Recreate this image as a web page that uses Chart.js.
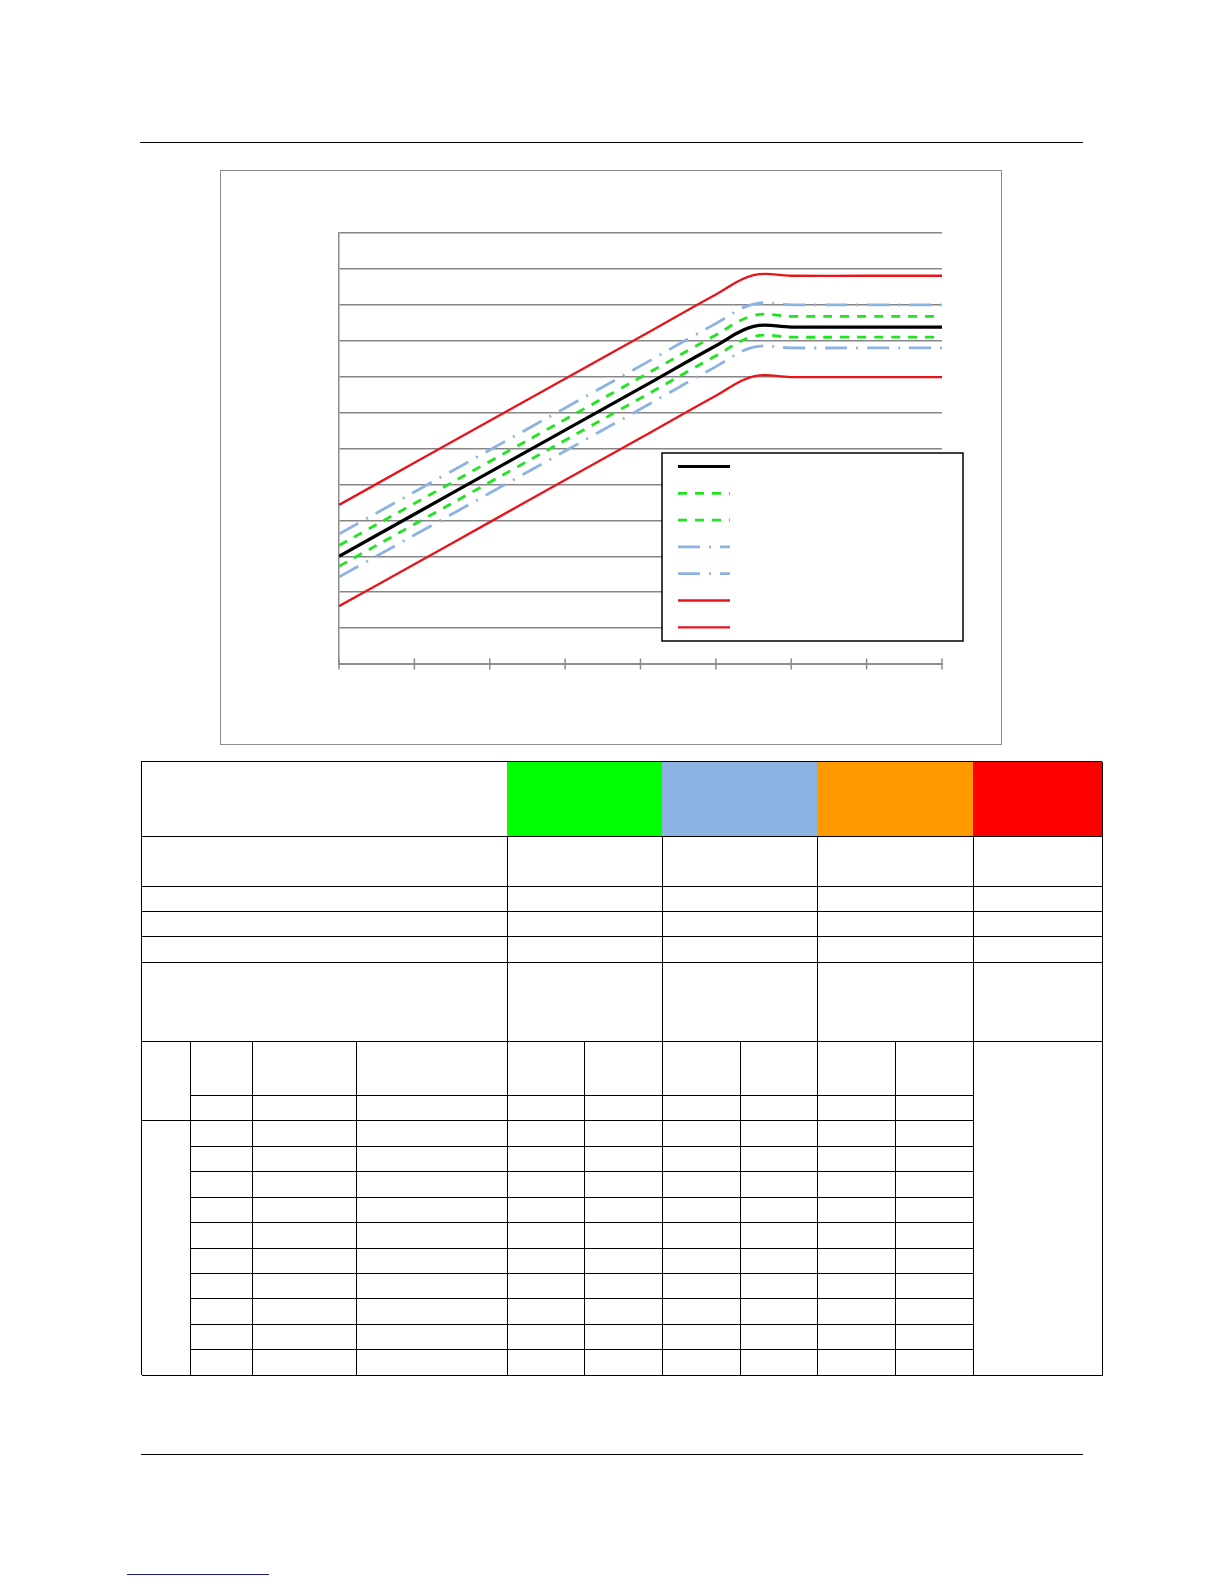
<!DOCTYPE html>
<html>
<head>
<meta charset="utf-8">
<script src="https://cdn.jsdelivr.net/npm/chart.js@4.4.1/dist/chart.umd.min.js"></script>
<style>
  html, body { margin: 0; padding: 0; background: #fff; }
  body { width: 1224px; height: 1584px; position: relative; overflow: hidden; font-family: "Liberation Sans", Arial, sans-serif; }
  .rule { position: absolute; height: 0; border-top: 1.5px solid #000; }
  #frame { position: absolute; left: 220px; top: 170px; width: 782px; height: 575px; border: 1.5px solid #8c8c8c; box-sizing: border-box; }
  #chartBox { position: absolute; left: 221px; top: 171px; width: 780px; height: 573px; }
  #table { position: absolute; left: 0; top: 0; }
  .cell { position: absolute; box-sizing: border-box; border-right: 1.5px solid #000; border-bottom: 1.5px solid #000; }
</style>
</head>
<body>
<div class="rule" style="left:140px; top:142px; width:943px;"></div>
<div id="frame"></div>
<div id="chartBox"><canvas id="myChart"></canvas></div>
<div id="table"></div>
<div class="rule" style="left:141px; top:1454px; width:942px;"></div>
<div class="rule" style="left:127px; top:1574px; width:142px; border-top-color:#1f1f8f;"></div>

<script>
// valeurs (axe x 0..8, axe y 0..12)
var xValues = [0, 1, 2, 3, 4, 5, 5.5, 6, 7, 8];
var centre     = [3.00, 4.17, 5.34, 6.51, 7.68, 8.86, 9.40, 9.38, 9.38, 9.38];
var vertHaut   = [3.30, 4.47, 5.64, 6.81, 7.98, 9.16, 9.70, 9.68, 9.68, 9.68];
var vertBas    = [2.72, 3.89, 5.06, 6.23, 7.40, 8.58, 9.12, 9.10, 9.10, 9.10];
var bleuHaut   = [3.62, 4.79, 5.96, 7.13, 8.30, 9.48, 10.02, 10.00, 10.00, 10.00];
var bleuBas    = [2.42, 3.59, 4.76, 5.93, 7.10, 8.28, 8.82, 8.80, 8.80, 8.80];
var rougeHaut  = [4.43, 5.60, 6.77, 7.94, 9.11, 10.29, 10.83, 10.81, 10.81, 10.81];
var rougeBas   = [1.61, 2.78, 3.95, 5.12, 6.29, 7.47, 8.01, 7.99, 7.99, 7.99];
var xTicks = [0, 1, 2, 3, 4, 5, 6, 7, 8];
var yTicks = [0, 1, 2, 3, 4, 5, 6, 7, 8, 9, 10, 11, 12];

document.addEventListener('DOMContentLoaded', function () {
  var ctx = document.getElementById('myChart').getContext('2d');

  function points(values) {
    return values.map(function (v, i) { return { x: xValues[i], y: v }; });
  }

  function serie(label, values, color, width, dash) {
    return {
      label: label,
      data: points(values),
      borderColor: color,
      borderWidth: width,
      borderDash: dash,
      pointRadius: 0,
      fill: false,
      tension: 0.4
    };
  }

  var vert = '#1fe41f';
  var bleu = '#8db3e2';
  var rouge = '#e8141a';

  // légende dessinée dans le cadre (sans texte, comme sur l'original)
  var legendePlugin = {
    id: 'legendeBoite',
    afterDraw: function (chart) {
      var c = chart.ctx;
      var box = { left: 441, top: 282, right: 742, bottom: 470 };
      c.save();
      c.fillStyle = '#fff';
      c.fillRect(box.left, box.top, box.right - box.left, box.bottom - box.top);
      c.strokeStyle = '#000';
      c.lineWidth = 1.5;
      c.strokeRect(box.left, box.top, box.right - box.left, box.bottom - box.top);
      chart.data.datasets.forEach(function (ds, i) {
        var y = box.top + 13.5 + i * 26.8;
        c.beginPath();
        c.strokeStyle = ds.borderColor;
        c.lineWidth = ds.borderWidth;
        c.setLineDash(ds.borderDash || []);
        c.moveTo(box.left + 16, y);
        c.lineTo(box.left + 68, y);
        c.stroke();
      });
      c.restore();
    }
  };

  // graduations croisées sur l'axe horizontal
  var ticksPlugin = {
    id: 'ticksCroises',
    afterDraw: function (chart) {
      var c = chart.ctx;
      var xs = chart.scales.x;
      var yb = chart.chartArea.bottom;
      c.save();
      c.strokeStyle = '#8c8c8c';
      c.lineWidth = 1.5;
      xTicks.forEach(function (t) {
        var px = xs.getPixelForValue(t);
        c.beginPath();
        c.moveTo(px, yb - 5.5);
        c.lineTo(px, yb + 5.5);
        c.stroke();
      });
      c.restore();
    }
  };

  var config = {
    type: 'line',
    data: {
      datasets: [
        serie('Centre', centre, '#000', 3.2, []),
        serie('Vert haut', vertHaut, vert, 2.8, [9, 8]),
        serie('Vert bas', vertBas, vert, 2.8, [9, 8]),
        serie('Bleu haut', bleuHaut, bleu, 2.8, [22, 9, 2, 9]),
        serie('Bleu bas', bleuBas, bleu, 2.8, [22, 9, 2, 9]),
        serie('Rouge haut', rougeHaut, rouge, 2.3, []),
        serie('Rouge bas', rougeBas, rouge, 2.3, [])
      ]
    },
    options: {
      responsive: true,
      maintainAspectRatio: false,
      animation: false,
      layout: { padding: { left: 118, top: 62, right: 59, bottom: 80 } },
      plugins: { legend: { display: false }, tooltip: { enabled: false } },
      scales: {
        x: {
          type: 'linear',
          min: xTicks[0],
          max: xTicks[xTicks.length - 1],
          ticks: { display: false, stepSize: 1 },
          grid: { drawOnChartArea: false, drawTicks: false },
          border: { color: '#8c8c8c', width: 2 },
          afterFit: function (s) { s.height = 0; }
        },
        y: {
          min: yTicks[0],
          max: yTicks[yTicks.length - 1],
          ticks: { display: false, stepSize: 1 },
          grid: { color: '#868686', lineWidth: 1.4, drawTicks: false },
          border: { color: '#8c8c8c', width: 1.5 },
          afterFit: function (s) { s.width = 0; }
        }
      }
    },
    plugins: [legendePlugin, ticksPlugin]
  };

  window.myChart = new Chart(ctx, config);

  // tableau sous le graphique (cellules vides)
  var table = document.getElementById('table');
  function cellule(x0, x1, y0, y1, fond) {
    var d = document.createElement('div');
    d.className = 'cell';
    d.style.left = x0 + 'px';
    d.style.top = y0 + 'px';
    d.style.width = (x1 - x0 + 0.75) + 'px';
    d.style.height = (y1 - y0 + 0.75) + 'px';
    if (fond) d.style.background = fond;
    table.appendChild(d);
  }
  var cadre = document.createElement('div');
  cadre.style.cssText = 'position:absolute;left:141.25px;top:761.25px;width:961px;height:614px;border-top:1.5px solid #000;border-left:1.5px solid #000;box-sizing:border-box;';
  table.appendChild(cadre);

  var hautY = [762, 836, 886, 911, 936, 962, 1041];
  var hautX = [142, 507, 662, 817, 973, 1102];
  var couleurs = [null, '#00ff00', '#8db3e2', '#ff9900', '#ff0000'];
  for (var r = 0; r < hautY.length - 1; r++) {
    for (var c = 0; c < hautX.length - 1; c++) {
      cellule(hautX[c], hautX[c + 1], hautY[r], hautY[r + 1], r === 0 ? couleurs[c] : null);
    }
  }
  var basY = [1041, 1095, 1120, 1146, 1171, 1197, 1222, 1248, 1273, 1298, 1324, 1349, 1375];
  var basX = [142, 190, 252, 356, 507, 584, 662, 740, 817, 895, 973, 1102];
  cellule(basX[0], basX[1], basY[0], basY[2]);
  cellule(basX[0], basX[1], basY[2], basY[basY.length - 1]);
  cellule(basX[10], basX[11], basY[0], basY[basY.length - 1]);
  for (var r2 = 0; r2 < basY.length - 1; r2++) {
    for (var c2 = 1; c2 < 10; c2++) {
      cellule(basX[c2], basX[c2 + 1], basY[r2], basY[r2 + 1]);
    }
  }
});
</script>
</body>
</html>
